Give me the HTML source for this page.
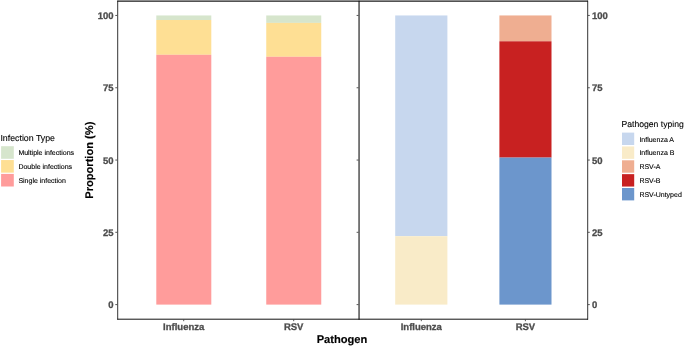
<!DOCTYPE html>
<html>
<head>
<meta charset="utf-8">
<title>Pathogen proportions</title>
<style>
html,body{margin:0;padding:0;background:#fff;}
body{width:685px;height:347px;overflow:hidden;}
svg{display:block;}
text{font-family:"Liberation Sans",Arial,sans-serif;text-rendering:geometricPrecision;}
.ax{font-weight:bold;font-size:9.5px;fill:#4d4d4d;stroke:#4d4d4d;stroke-width:.3px;}
.ttl{font-weight:bold;font-size:11.12px;fill:#000;stroke:#000;stroke-width:.15px;}
.lt{font-size:8.8px;fill:#000;stroke:#000;stroke-width:.1px;}
.li{font-size:7px;fill:#000;stroke:#000;stroke-width:.12px;}
.ln{stroke:#4a4a4a;stroke-width:1;fill:none;}
.tk{stroke:#444;stroke-width:0.9;fill:none;}
</style>
</head>
<body>
<svg width="685" height="347" viewBox="0 0 685 347">
<rect x="0" y="0" width="685" height="347" fill="#ffffff"/>

<!-- left panel bars -->
<g shape-rendering="auto">
<rect x="156.3" y="15.45" width="55" height="4.55" fill="#d6e5cc"/>
<rect x="156.3" y="20.0" width="55" height="34.8" fill="#fedf94"/>
<rect x="156.3" y="54.8" width="55" height="249.8" fill="#ff9c9b"/>

<rect x="266.25" y="15.45" width="55" height="7.45" fill="#d6e5cc"/>
<rect x="266.25" y="22.9" width="55" height="33.9" fill="#fedf94"/>
<rect x="266.25" y="56.8" width="55" height="247.8" fill="#ff9c9b"/>

<!-- right panel bars -->
<rect x="395.2" y="15.45" width="52.2" height="220.75" fill="#c7d7ee"/>
<rect x="395.2" y="236.2" width="52.2" height="68.4" fill="#f9ebc8"/>

<rect x="499.4" y="15.45" width="52.1" height="25.85" fill="#efae91"/>
<rect x="499.4" y="41.3" width="52.1" height="116.3" fill="#c82121"/>
<rect x="499.4" y="157.6" width="52.1" height="147.0" fill="#6c96cc"/>
</g>

<!-- panel borders -->
<line class="ln" x1="117.3" y1="1.14" x2="588" y2="1.14" style="stroke:#1a1a1a;stroke-width:1.04"/>
<line class="ln" x1="117.7" y1="0.7" x2="117.7" y2="319.7" style="stroke:#111;stroke-width:0.85"/>
<line class="ln" x1="359.05" y1="0.7" x2="359.05" y2="319.7" style="stroke:#111;stroke-width:1.1"/>
<line class="ln" x1="587.7" y1="0.7" x2="587.7" y2="319.7" style="stroke:#111;stroke-width:0.85"/>
<line class="ln" x1="117.3" y1="319.2" x2="588" y2="319.2" style="stroke:#111;stroke-width:1.0"/>

<!-- left axis ticks -->
<g class="tk">
<line x1="115.3" y1="15.45" x2="117.2" y2="15.45"/>
<line x1="115.3" y1="87.75" x2="117.2" y2="87.75"/>
<line x1="115.3" y1="160.05" x2="117.2" y2="160.05"/>
<line x1="115.3" y1="232.3" x2="117.2" y2="232.3"/>
<line x1="115.3" y1="304.6" x2="117.2" y2="304.6"/>
<!-- middle ticks -->
<line x1="356.6" y1="15.45" x2="358.6" y2="15.45"/>
<line x1="356.6" y1="87.75" x2="358.6" y2="87.75"/>
<line x1="356.6" y1="160.05" x2="358.6" y2="160.05"/>
<line x1="356.6" y1="232.3" x2="358.6" y2="232.3"/>
<line x1="356.6" y1="304.6" x2="358.6" y2="304.6"/>
<!-- right ticks -->
<line x1="587.8" y1="15.45" x2="589.8" y2="15.45"/>
<line x1="587.8" y1="87.75" x2="589.8" y2="87.75"/>
<line x1="587.8" y1="160.05" x2="589.8" y2="160.05"/>
<line x1="587.8" y1="232.3" x2="589.8" y2="232.3"/>
<line x1="587.8" y1="304.6" x2="589.8" y2="304.6"/>
<!-- bottom ticks -->
<line x1="183.7" y1="319.4" x2="183.7" y2="321.2"/>
<line x1="293.7" y1="319.4" x2="293.7" y2="321.2"/>
<line x1="421.3" y1="319.4" x2="421.3" y2="321.2"/>
<line x1="525.4" y1="319.4" x2="525.4" y2="321.2"/>
</g>

<!-- left axis labels -->
<g class="ax" text-anchor="end">
<text x="113.6" y="19.0">100</text>
<text x="113.6" y="91.3">75</text>
<text x="113.6" y="163.7">50</text>
<text x="113.6" y="236.0">25</text>
<text x="113.6" y="308.2">0</text>
</g>
<!-- right axis labels -->
<g class="ax" text-anchor="start">
<text x="592.0" y="19.1">100</text>
<text x="592.0" y="91.4">75</text>
<text x="592.0" y="163.8">50</text>
<text x="592.0" y="236.1">25</text>
<text x="592.0" y="308.3">0</text>
</g>
<!-- x labels -->
<g class="ax" text-anchor="middle">
<text x="183.7" y="329.8">Influenza</text>
<text x="293.7" y="329.8">RSV</text>
<text x="421.3" y="329.8">Influenza</text>
<text x="525.4" y="329.8">RSV</text>
</g>

<!-- titles -->
<text class="ttl" text-anchor="middle" x="342" y="343.25">Pathogen</text>
<text class="ttl" text-anchor="middle" transform="translate(92.75,160.2) rotate(-90)">Proportion (%)</text>

<!-- left legend -->
<text class="lt" x="0.4" y="140.8">Infection Type</text>
<rect x="1.1" y="146.2" width="12.7" height="12.6" fill="#d6e5cc"/>
<rect x="1.1" y="160.05" width="12.7" height="12.6" fill="#fedf94"/>
<rect x="1.1" y="173.9" width="12.7" height="12.6" fill="#ff9c9b"/>
<text class="li" x="18.4" y="155.35">Multiple infections</text>
<text class="li" x="18.4" y="169.2">Double infections</text>
<text class="li" x="18.4" y="183.05">Single infection</text>

<!-- right legend -->
<text class="lt" x="621.45" y="126.75" style="font-size:8.65px">Pathogen typing</text>
<rect x="622" y="132.6" width="12.2" height="12.4" fill="#c7d7ee"/>
<rect x="622" y="146.45" width="12.2" height="12.4" fill="#f9ebc8"/>
<rect x="622" y="160.3" width="12.2" height="12.4" fill="#efae91"/>
<rect x="622" y="174.15" width="12.2" height="12.4" fill="#c82121"/>
<rect x="622" y="188.0" width="12.2" height="12.4" fill="#6c96cc"/>
<text class="li" x="639.4" y="141.55">Influenza A</text>
<text class="li" x="639.4" y="155.4">Influenza B</text>
<text class="li" x="639.4" y="169.25">RSV-A</text>
<text class="li" x="639.4" y="183.1">RSV-B</text>
<text class="li" x="639.4" y="196.95">RSV-Untyped</text>
</svg>
</body>
</html>
